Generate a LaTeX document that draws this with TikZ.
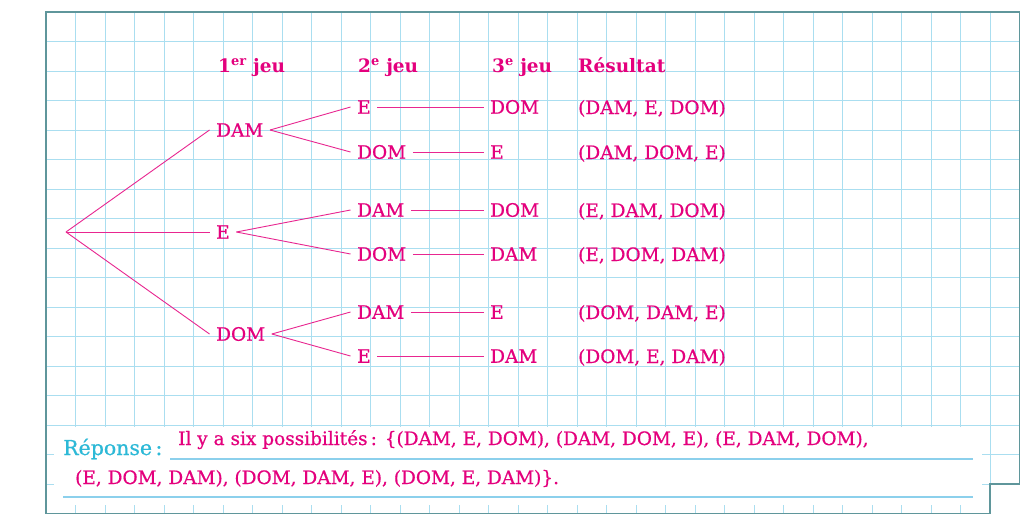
\documentclass[tikz,border=0pt]{standalone}
\usepackage{fontspec}
\setmainfont{DejaVu Serif}
\newfontfamily\texte{DejaVu Serif}[FakeBold=0.6]
\definecolor{rose}{RGB}{228,0,125}
\definecolor{grillec}{RGB}{170,222,240}
\definecolor{bordc}{RGB}{95,150,155}
\definecolor{repc}{RGB}{45,185,215}
\definecolor{traitc}{RGB}{140,208,236}
\begin{document}
\begin{tikzpicture}[x=1pt, y=-1pt,
    grille/.style={draw=grillec, line width=1pt},
    choix/.style={text=rose, font=\texte\fontsize{18.5}{22}\selectfont, inner sep=6.5pt, anchor=west},
    titre/.style={text=rose, font=\fontsize{18.5}{22}\selectfont\bfseries, inner sep=0pt, anchor=base west},
    issue/.style={text=rose, font=\texte\fontsize{18.5}{22}\selectfont, inner sep=0pt, anchor=base west},
    branche/.style={draw=rose!85, line width=0.9pt}]
    \useasboundingbox (0,0) rectangle (1024,525);

    % Quadrillage
    \fill[white] (46,12) -- (1019.5,12) -- (1019.5,484) -- (990,484) -- (990,513.5) -- (46,513.5) -- cycle;
    \foreach \i in {1,...,32} {
        \draw[grille] ({46+29.5*\i},12) -- ({46+29.5*\i},513.5);
    }
    \foreach \j in {1,...,16} {
        \draw[grille] (46,{12+29.5*\j}) -- (1019.5,{12+29.5*\j});
    }

    % Cadre de la reponse
    \fill[white] (54,426.5) rectangle (982,505);
    \draw[traitc, line width=1.1pt] (170,459) -- (973,459);
    \draw[traitc, line width=1.6pt] (63,497) -- (973,497);

    % Bord de la feuille
    \draw[bordc, line width=1.4pt] (46,12) -- (1019.5,12) -- (1019.5,484) -- (990,484) -- (990,513.5) -- (46,513.5) -- cycle;

    % En-tetes
    \node[titre] (h1) at (218,72) {1\textsuperscript{er} jeu};
    \node[titre] (h2) at (358,72) {2\textsuperscript{e} jeu};
    \node[titre] (h3) at (492,72) {3\textsuperscript{e} jeu};
    \node[titre] (h4) at (578,72) {Résultat};

    % Arbre
    \coordinate (r) at (66,232);
    \node[choix] (a) at (209.5,130) {DAM};
    \node[choix] (b) at (209.5,232) {E};
    \node[choix] (c) at (209.5,334) {DOM};

    \node[choix] (a1) at (350.5,107) {E};
    \node[choix] (a2) at (350.5,152) {DOM};
    \node[choix] (b1) at (350.5,210) {DAM};
    \node[choix] (b2) at (350.5,254) {DOM};
    \node[choix] (c1) at (350.5,312) {DAM};
    \node[choix] (c2) at (350.5,356) {E};

    \node[choix] (a11) at (483.5,107) {DOM};
    \node[choix] (a21) at (483.5,152) {E};
    \node[choix] (b11) at (483.5,210) {DOM};
    \node[choix] (b21) at (483.5,254) {DAM};
    \node[choix] (c11) at (483.5,312) {E};
    \node[choix] (c21) at (483.5,356) {DAM};

    \foreach \n in {a,b,c} {
        \draw[branche] (r) -- (\n.west);
        \draw[branche] (\n.east) -- (\n1.west);
        \draw[branche] (\n.east) -- (\n2.west);
        \draw[branche] (\n1) -- (\n11);
        \draw[branche] (\n2) -- (\n21);
    }

    % Resultats
    \node[issue] (s1) at (578,114) {(DAM, E, DOM)};
    \node[issue] (s2) at (578,159) {(DAM, DOM, E)};
    \node[issue] (s3) at (578,217) {(E, DAM, DOM)};
    \node[issue] (s4) at (578,261) {(E, DOM, DAM)};
    \node[issue] (s5) at (578,319) {(DOM, DAM, E)};
    \node[issue] (s6) at (578,363) {(DOM, E, DAM)};

    % Reponse
    \node[issue, text=repc, font=\texte\fontsize{20.5}{24}\selectfont] (rep) at (63,455) {Réponse\,:};
    \node[issue] (l1) at (178,445) {Il y a six possibilités\,: \{(DAM, E, DOM), (DAM, DOM, E), (E, DAM, DOM),};
    \node[issue] (l2) at (75,484) {(E, DOM, DAM), (DOM, DAM, E), (DOM, E, DAM)\}.};
\end{tikzpicture}
\end{document}
